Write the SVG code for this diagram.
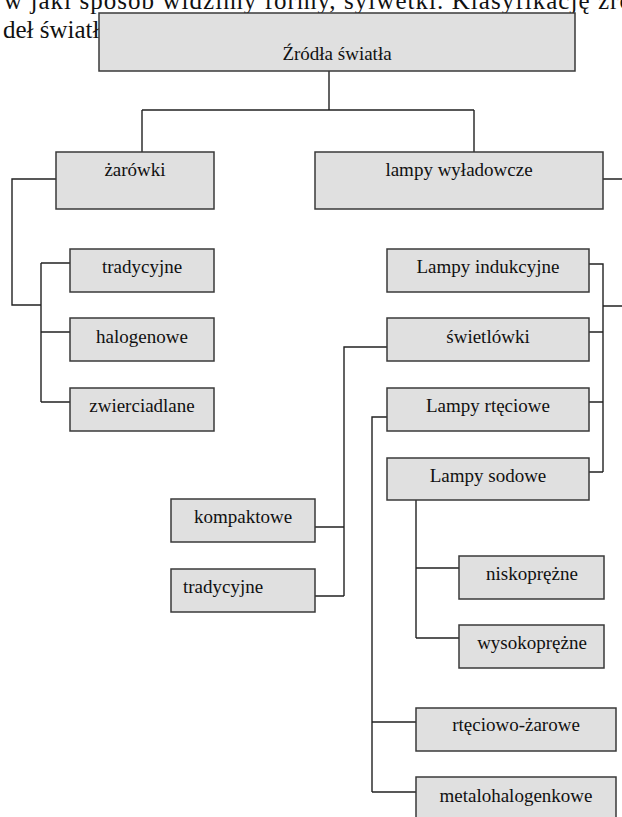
<svg xmlns="http://www.w3.org/2000/svg" width="622" height="817" viewBox="0 0 622 817">
  <style>
    .box rect { fill: #e0e0e0; stroke: #3a3a3a; stroke-width: 1.5; }
    .box text { font-family: "Liberation Serif", "Times New Roman", serif; font-size: 19px; fill: #111; text-anchor: middle; }
    .para { font-family: "Liberation Serif", "Times New Roman", serif; font-size: 25px; fill: #111; }
    #connectors path { fill: none; stroke: #222; stroke-width: 1.4; }
  </style>
  <rect width="622" height="817" fill="#ffffff"/>

  <!-- surrounding body text, partly hidden behind the chart -->
  <text class="para" x="4" y="9" textLength="628" lengthAdjust="spacing">w jaki sposób widzimy formy, sylwetki. Klasyfikację źró</text>
  <text class="para" x="3" y="38">deł światła</text>

  <g id="connectors">
    <!-- root to first level -->
    <path d="M329,71 V110 M142,110 H474 M142,110 V152 M474,110 V152"/>
    <!-- incandescent branch -->
    <path d="M56,179 H12 V305 H41 M41,263 V402 M41,263 H70 M41,332 H70 M41,402 H70"/>
    <!-- discharge branch -->
    <path d="M603,179 H622 M589,264 H603 V472 M603,306 H622 M589,332 H603 M589,402 H603 M589,472 H603"/>
    <!-- fluorescent sub-branch -->
    <path d="M387,347 H344 V596 M315,527 H344 M315,596 H344"/>
    <!-- mercury sub-branch -->
    <path d="M387,417 H372 V792 M372,722 H416 M372,792 H416"/>
    <!-- sodium sub-branch -->
    <path d="M416,500 V638 M416,568 H459 M416,638 H459"/>
  </g>

  <g id="zrodla" class="box"><rect x="99" y="13" width="476" height="58"/><text x="337" y="60">Źródła światła</text></g>
  <g id="zarowki" class="box"><rect x="56" y="152" width="158" height="57"/><text x="135" y="176">żarówki</text></g>
  <g id="wyladowcze" class="box"><rect x="315" y="152" width="288" height="57"/><text x="459" y="176">lampy wyładowcze</text></g>

  <g id="tradycyjne" class="box"><rect x="70" y="249" width="144" height="43"/><text x="142" y="273">tradycyjne</text></g>
  <g id="halogenowe" class="box"><rect x="70" y="318" width="144" height="43"/><text x="142" y="343">halogenowe</text></g>
  <g id="zwierciadlane" class="box"><rect x="70" y="388" width="144" height="43"/><text x="142" y="412">zwierciadlane</text></g>

  <g id="indukcyjne" class="box"><rect x="387" y="249" width="202" height="43"/><text x="488" y="273">Lampy indukcyjne</text></g>
  <g id="swietlowki" class="box"><rect x="387" y="318" width="202" height="43"/><text x="488" y="343">świetlówki</text></g>
  <g id="rteciowe" class="box"><rect x="387" y="388" width="202" height="43"/><text x="488" y="412">Lampy rtęciowe</text></g>
  <g id="sodowe" class="box"><rect x="387" y="458" width="202" height="42"/><text x="488" y="482">Lampy sodowe</text></g>

  <g id="kompaktowe" class="box"><rect x="171" y="499" width="144" height="43"/><text x="243" y="523">kompaktowe</text></g>
  <g id="tradycyjne-swietlowki" class="box"><rect x="171" y="569" width="144" height="43"/><text x="183" y="593" style="text-anchor:start">tradycyjne</text></g>

  <g id="niskoprezne" class="box"><rect x="459" y="556" width="145" height="43"/><text x="532" y="580">niskoprężne</text></g>
  <g id="wysokoprezne" class="box"><rect x="459" y="625" width="145" height="43"/><text x="532" y="649">wysokoprężne</text></g>

  <g id="rteciowo-zarowe" class="box"><rect x="416" y="708" width="200" height="43"/><text x="516" y="731">rtęciowo-żarowe</text></g>
  <g id="metalohalogenkowe" class="box"><rect x="416" y="777" width="200" height="43"/><text x="516" y="802">metalohalogenkowe</text></g>
</svg>
